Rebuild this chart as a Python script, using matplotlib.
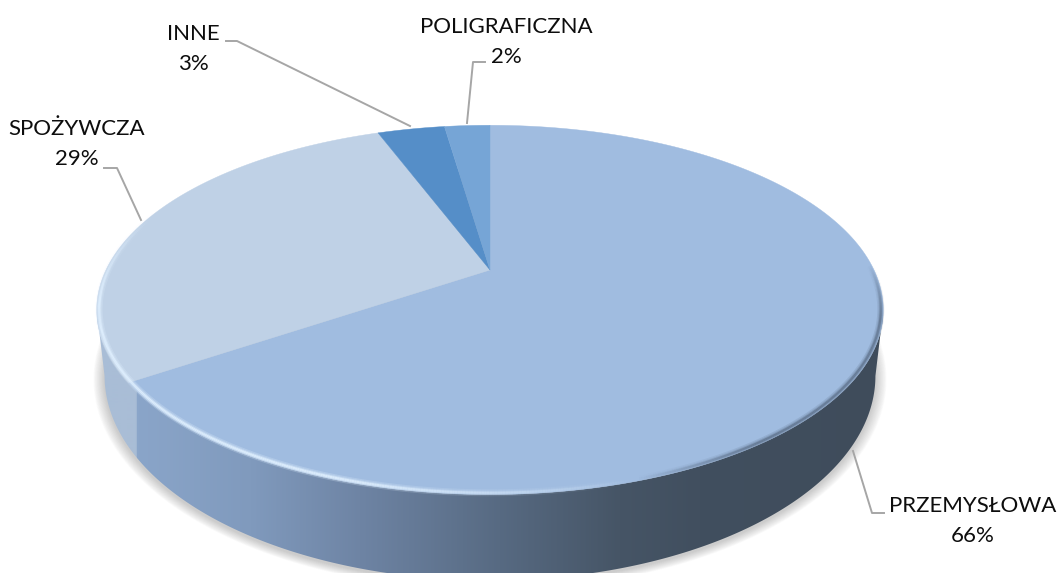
import numpy as np
import matplotlib
matplotlib.use('Agg')
import matplotlib.pyplot as plt
from matplotlib.collections import LineCollection
from matplotlib.colors import LinearSegmentedColormap
from matplotlib.patches import Polygon

# Data, clockwise from 12 o'clock
names = ['PRZEMYSŁOWA', 'SPOŻYWCZA', 'INNE', 'POLIGRAFICZNA']
values = [65.5, 28.8, 3.4, 2.3]
colors = ['#a0bce0', '#bfd1e6', '#558ec8', '#76a5d6']

plt.rcParams['font.family'] = ['Lato', 'DejaVu Sans']

# pie geometry in pixels, perspective squeezes the far half
cx, cy = 490, 270
a, b, k = 384, 176, 0.216
shrink = 0.98


def project(t, r=1.0):
    # t = angle clockwise from top, radians
    u, v = r * np.sin(t), r * np.cos(t)
    w = 1 + k * v
    return cx + a * u / w, cy - b * v / w


fig = plt.figure(figsize=(10.59, 5.73), dpi=100)
ax = fig.add_axes([0, 0, 1, 1])
ax.set_xlim(0, 1059)
ax.set_ylim(573, 0)
ax.axis('off')

t_all = np.linspace(0, 2 * np.pi, 721)
rx, ry = project(t_all)
bx = cx + (rx - cx) * shrink
by = ry + 66 + 20 * (ry - 310) / 185  # wall looks taller towards the viewer

# soft shadow under the disc
for i in range(16):
    grow = 1 + 0.0018 * (16 - i)
    ax.fill(cx + (bx - cx) * grow, 318 + (by - 318) * grow + 2,
            color='#777777', alpha=0.022, lw=0, zorder=1)

# side wall: between the lower top rim and the bottom outline, gradient filled
left = np.argmin(rx)
right = np.argmax(rx)
low = np.arange(right, left + 1)
wall_xy = np.c_[np.r_[rx[low], bx[low][::-1]], np.r_[ry[low], by[low][::-1]]]
wall = Polygon(wall_xy, closed=True, transform=ax.transData, fc='none', ec='none')
ax.add_patch(wall)
stops = [(97, '#a9bdd6'), (135, '#a9bdd6'), (137, '#8aa5c9'), (250, '#809abd'),
         (360, '#6e84a4'), (500, '#576a82'), (620, '#465566'), (700, '#414f5f'),
         (883, '#3f4c5b')]
cmap = LinearSegmentedColormap.from_list(
    'wall', [((x - 97) / (883 - 97), c) for x, c in stops], N=512)
grad = np.linspace(0, 1, 787).reshape(1, -1)
im = ax.imshow(grad, cmap=cmap, extent=[97, 883, 600, 270], aspect='auto', zorder=2)
im.set_clip_path(wall)
ax.set_xlim(0, 1059)
ax.set_ylim(573, 0)

# top face, one polygon per slice
edges = np.r_[0, np.cumsum(values)] / np.sum(values) * 2 * np.pi
for i in range(len(values)):
    t = np.linspace(edges[i], edges[i + 1], 300)
    x, y = project(t)
    ax.fill(np.r_[cx, x], np.r_[cy, y], color=colors[i], lw=0.3, zorder=3)

# rim bevel: bright on the lit left, fading out, dark blur on the right
t_rim = np.linspace(np.pi * 0.40, np.pi * 1.62, 700)
x, y = project(t_rim, 0.994)
segs = np.stack([np.c_[x[:-1], y[:-1]], np.c_[x[1:], y[1:]]], axis=1)
xm, ym = x[:-1], y[:-1]
light = np.clip((640 - xm) / 300, 0, 1) * np.clip((ym - 215) / 90, 0, 1)
dark = np.clip((xm - 640) / 120, 0, 1) * np.clip((ym - 265) / 50, 0, 1)
rgba = np.zeros((len(segs), 4))
rgba[:, :3] = np.where(light[:, None] > 0, [[0.88, 0.94, 1.0]], [[0.30, 0.37, 0.46]])
rgba[:, 3] = np.maximum(light, dark * 0.6)
for lw, al in [(5, 0.25), (3, 0.4), (1.6, 0.8)]:
    c = rgba.copy()
    c[:, 3] *= al
    ax.add_collection(LineCollection(segs, colors=c, linewidths=lw, zorder=4))

# labels and leader lines
labels = [f'{n}\n{round(v)}%' for n, v in zip(names, values)]
label_pos = [(973, 521), (77, 144), (193, 49), (506, 42)]
leaders = [[(853, 451), (872, 513), (884, 513)],
           [(104, 168), (117, 168), (141, 220)],
           [(226, 41), (237, 41), (410, 126)],
           [(485, 62), (473, 62), (467, 123)]]
for lab, (tx, ty), pts in zip(labels, label_pos, leaders):
    ax.plot(*zip(*pts), color='#a6a6a6', lw=1.4, zorder=5)
    ax.text(tx, ty, lab, ha='center', va='center', fontsize=16, color='#0d0d0d',
            linespacing=1.6, zorder=6)

fig.savefig('out.png', dpi=100, facecolor='white')
